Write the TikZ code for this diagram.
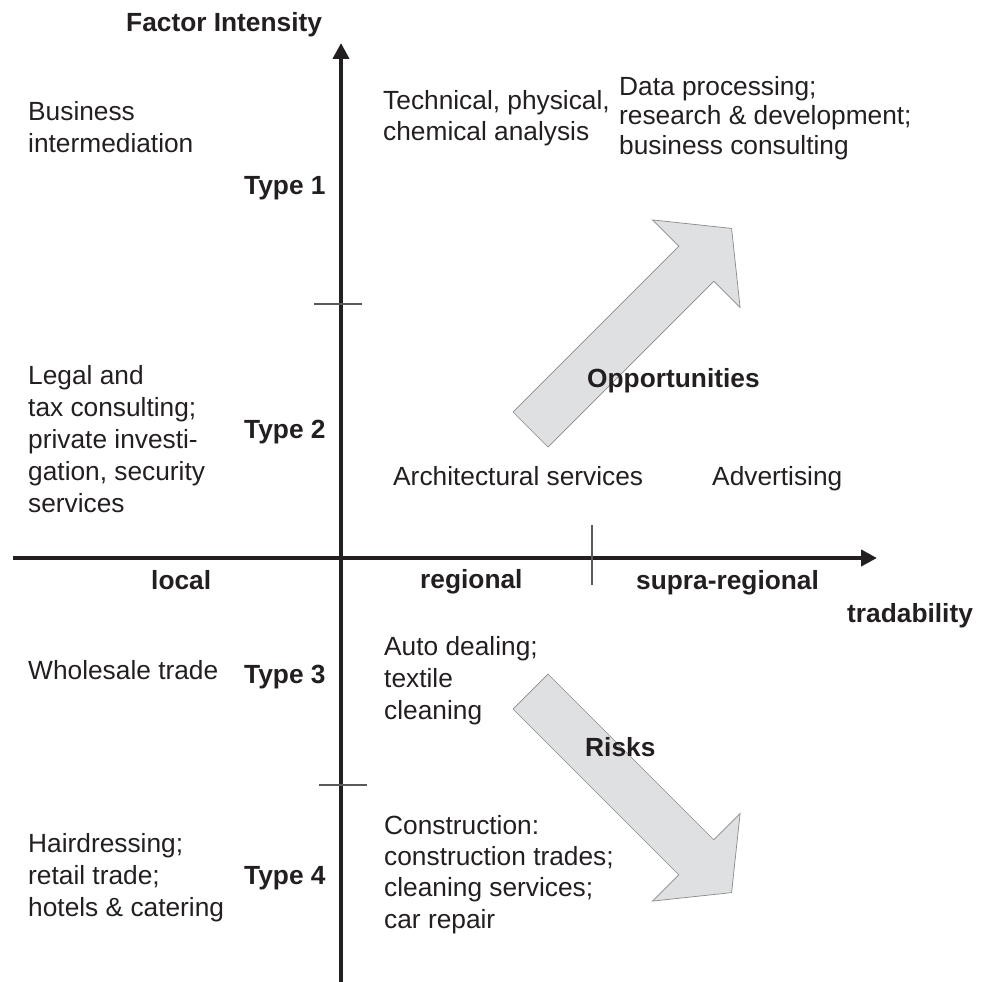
\documentclass[tikz,border=0pt]{standalone}
\usepackage{fontspec}
\setmainfont{Liberation Sans}
\usetikzlibrary{arrows.meta}
\definecolor{ink}{HTML}{231F20}
\definecolor{arrowfill}{HTML}{DFE0E2}
\definecolor{arrowedge}{HTML}{8A8A8A}
\definecolor{tickgray}{HTML}{58595B}

\begin{document}
\begin{tikzpicture}[x=1pt,y=-1pt,
  % multi-line blocks are placed by the baseline of their last line
  txt/.style={anchor=base west, inner sep=0pt, text=ink, align=left,
              font=\fontsize{26.3}{31.6}\selectfont},
  lead/.style={font=\fontsize{26.3}{#1}\selectfont},
  bold/.style={anchor=base west, inner sep=0pt, text=ink,
               font=\fontsize{26.3}{31.6}\selectfont\bfseries},
  axis/.style={draw=ink, line width=4.5pt,
               -{Triangle[length=16pt,width=16pt]}},
  tickmark/.style={draw=tickgray, line width=1.1pt},
  blockarrow/.style={fill=arrowfill, draw=arrowedge, line width=0.7pt,
                     line join=miter}]

\useasboundingbox (0,0) rectangle (988,982);

% block arrow pointing up-right
\coordinate (o1) at (513,412);
\coordinate (o2) at (678.75,246.25);
\coordinate (o3) at (652.4,219.9);
\coordinate (o4) at (731.6,228.4);
\coordinate (o5) at (740.1,307.6);
\coordinate (o6) at (713.75,281.25);
\coordinate (o7) at (548,447);
\path[blockarrow] (o1) -- (o2) -- (o3) -- (o4) -- (o5) -- (o6) -- (o7) -- cycle;

% block arrow pointing down-right
\coordinate (r1) at (548,674);
\coordinate (r2) at (713.75,839.75);
\coordinate (r3) at (740.1,813.4);
\coordinate (r4) at (731.6,892.6);
\coordinate (r5) at (652.4,901.1);
\coordinate (r6) at (678.75,874.75);
\coordinate (r7) at (513,709);
\path[blockarrow] (r1) -- (r2) -- (r3) -- (r4) -- (r5) -- (r6) -- (r7) -- cycle;

% axes
\coordinate (xstart) at (13,558);
\coordinate (xend) at (877,558);
\coordinate (ystart) at (341,982);
\coordinate (yend) at (341,43);
\draw[axis] (xstart) -- (xend);
\draw[axis] (ystart) -- (yend);

% division marks
\coordinate (ta1) at (314,304);
\coordinate (ta2) at (362,304);
\coordinate (tb1) at (319,785);
\coordinate (tb2) at (367,785);
\coordinate (tc1) at (592,525);
\coordinate (tc2) at (592,585);
\draw[tickmark] (ta1) -- (ta2);
\draw[tickmark] (tb1) -- (tb2);
\draw[tickmark] (tc1) -- (tc2);

% axis titles and tradability classes
\node[bold] (yaxislabel) at (126,32) {Factor Intensity};
\node[bold] (tradab) at (847,622) {tradability};
\node[bold] (local) at (151,589) {local};
\node[bold] (regional) at (420,588.5) {regional};
\node[bold] (supra) at (636,589) {supra-regional};

% types
\node[bold] (type1) at (244,194.3) {Type 1};
\node[bold] (type2) at (244,438) {Type 2};
\node[bold] (type3) at (244,683) {Type 3};
\node[bold] (type4) at (244,884) {Type 4};

% arrow labels
\node[bold] (opp) at (587,387) {Opportunities};
\node[bold] (risks) at (585,756) {Risks};

% service branches
\node[txt] (bizint) at (28,152.3) {Business\\intermediation};
\node[txt, lead=30.7] (techanal) at (383,140) {Technical, physical,\\chemical analysis};
\node[txt, lead=29.5] (dataproc) at (619,154.3) {Data processing;\\research \& development;\\business consulting};
\node[txt, lead=32] (legal) at (28,512.7) {Legal and\\tax consulting;\\private investi-\\gation, security\\services};
\node[txt] (arch) at (393,485) {Architectural services};
\node[txt] (advert) at (712,485) {Advertising};
\node[txt] (wholesale) at (28,679) {Wholesale trade};
\node[txt, lead=32] (auto) at (384,719) {Auto dealing;\\textile\\cleaning};
\node[txt, lead=31.3] (construct) at (384,928) {Construction:\\construction trades;\\cleaning services;\\car repair};
\node[txt] (hair) at (28,916) {Hairdressing;\\retail trade;\\hotels \& catering};

\end{tikzpicture}
\end{document}
